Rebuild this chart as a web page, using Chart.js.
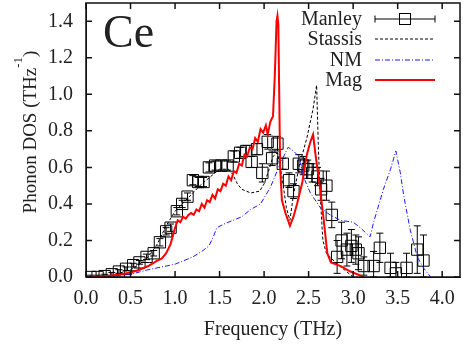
<!DOCTYPE html>
<html lang="en">
<head>
<meta charset="UTF-8">
<title>Ce phonon DOS</title>
<script src="https://cdn.jsdelivr.net/npm/chart.js"></script>
<style>
  body { margin: 0; background: #fff; }
  #dos { display: block; }
</style>
</head>
<body>
<canvas id="dos" width="463" height="344"></canvas>
<script>
// Manley: measured DOS with error bars
const manleyFreq = [0.05,0.13,0.21,0.29,0.37,0.45,0.53,0.60,0.68,0.76,0.83,0.90,0.95,1.02,1.08,1.14,1.20,1.26,1.32,1.38,
  1.45,1.52,1.59,1.66,1.73,1.80,1.86,1.92,1.98,2.04,2.09,2.15,2.21,2.28,2.33,2.39,2.44,2.49,2.54,2.60,
  2.64,2.70,2.76,2.82,2.87,2.93,2.98,3.03,3.06,3.12,3.23,3.30,3.42,3.48,3.60,3.72,3.79];
const manleyDos = [0.00,0.00,0.005,0.015,0.03,0.045,0.065,0.08,0.11,0.13,0.19,0.25,0.27,0.36,0.40,0.44,0.53,0.52,0.52,0.60,
  0.61,0.61,0.61,0.66,0.68,0.69,0.63,0.70,0.57,0.74,0.65,0.73,0.62,0.53,0.47,0.62,0.61,0.59,0.57,0.55,
  0.48,0.50,0.34,0.11,0.20,0.15,0.17,0.15,0.13,0.06,0.06,0.16,0.05,0.02,0.05,0.15,0.09];
const manleyErr = [0.01,0.01,0.01,0.01,0.01,0.01,0.01,0.01,0.015,0.015,0.02,0.02,0.02,0.02,0.02,0.02,0.025,0.025,0.025,0.025,
  0.025,0.025,0.025,0.03,0.03,0.03,0.03,0.03,0.05,0.04,0.04,0.04,0.03,0.04,0.04,0.05,0.05,0.05,0.05,0.05,
  0.06,0.08,0.07,0.09,0.10,0.09,0.09,0.08,0.09,0.05,0.08,0.08,0.08,0.06,0.08,0.13,0.14];

// Stassis
const stassisFreq = [0.0,0.3,0.5,0.6,0.7,0.8,0.9,1.0,1.1,1.2,1.3,1.4,1.5,1.6,1.65,1.7,1.75,1.85,1.95,2.0,
  2.05,2.1,2.15,2.2,2.25,2.29,2.33,2.4,2.48,2.55,2.59,2.61,2.63,2.66,2.7,2.8,2.9,3.0];
const stassisDos = [0.0,0.01,0.04,0.07,0.11,0.18,0.28,0.36,0.41,0.46,0.51,0.55,0.59,0.59,0.56,0.51,0.48,0.46,0.47,0.51,
  0.58,0.66,0.68,0.55,0.38,0.31,0.45,0.62,0.76,0.92,1.05,0.70,0.45,0.20,0.13,0.08,0.04,0.0];

// NM calculation
const nmFreq = [0.0,0.3,0.5,0.7,0.9,1.0,1.1,1.2,1.3,1.38,1.43,1.47,1.55,1.65,1.75,1.85,1.96,2.07,2.18,2.27,
  2.33,2.39,2.44,2.52,2.63,2.74,2.86,3.0,3.08,3.19,3.23,3.34,3.42,3.48,3.53,3.57,3.64,3.72,3.79,3.87];
const nmDos = [0.0,0.005,0.015,0.04,0.06,0.07,0.09,0.11,0.14,0.17,0.22,0.27,0.29,0.31,0.33,0.37,0.40,0.49,0.62,0.71,
  0.69,0.66,0.55,0.46,0.38,0.34,0.31,0.30,0.27,0.22,0.30,0.48,0.59,0.69,0.57,0.44,0.26,0.11,0.05,0.0];

// Mag calculation
const magFreq = [0.0,0.2,0.4,0.5,0.6,0.7,0.8,0.85,0.9,0.95,1.0,1.03,1.06,1.09,1.12,1.15,1.18,1.21,1.24,1.27,
  1.30,1.33,1.36,1.39,1.42,1.45,1.48,1.51,1.54,1.57,1.60,1.63,1.66,1.69,1.72,1.75,1.78,1.81,1.84,1.87,
  1.90,1.93,1.96,1.99,2.02,2.04,2.07,2.10,2.12,2.14,2.15,2.16,2.17,2.18,2.20,2.24,2.29,2.33,2.37,2.43,
  2.48,2.52,2.55,2.58,2.62,2.67,2.71,2.75,2.86,2.97,3.12];
const magDos = [0.0,0.003,0.015,0.025,0.04,0.06,0.09,0.10,0.13,0.18,0.27,0.31,0.30,0.33,0.32,0.34,0.35,0.34,0.37,0.36,
  0.40,0.38,0.42,0.41,0.45,0.43,0.48,0.47,0.51,0.50,0.55,0.53,0.58,0.57,0.62,0.61,0.67,0.66,0.71,0.70,
  0.76,0.74,0.81,0.79,0.83,0.78,0.85,0.88,1.10,1.40,1.43,1.38,1.00,0.60,0.42,0.35,0.28,0.33,0.40,0.52,
  0.67,0.74,0.78,0.66,0.52,0.31,0.13,0.08,0.06,0.03,0.0];

const xTickValues = [0.0,0.5,1.0,1.5,2.0,2.5,3.0,3.5,4.0];
const yTickValues = [0.0,0.2,0.4,0.6,0.8,1.0,1.2,1.4];

const serif = '"Liberation Serif", "Times New Roman", serif';
Chart.defaults.font.family = serif;
Chart.defaults.font.size = 20;
Chart.defaults.color = '#222';

const pts = (xs, ys) => xs.map((x, i) => ({ x: x, y: ys[i] }));

// vertical error bars with caps, drawn under the markers
const errorBars = {
  id: 'errorBars',
  beforeDatasetsDraw(chart) {
    const { ctx, scales: { x, y } } = chart;
    ctx.save();
    ctx.strokeStyle = '#000';
    ctx.lineWidth = 1;
    manleyFreq.forEach((f, i) => {
      const px = x.getPixelForValue(f);
      const lo = y.getPixelForValue(Math.max(0, manleyDos[i] - manleyErr[i]));
      const hi = y.getPixelForValue(manleyDos[i] + manleyErr[i]);
      ctx.beginPath();
      ctx.moveTo(px, lo); ctx.lineTo(px, hi);
      ctx.moveTo(px - 3.5, lo); ctx.lineTo(px + 3.5, lo);
      ctx.moveTo(px - 3.5, hi); ctx.lineTo(px + 3.5, hi);
      ctx.stroke();
    });
    ctx.restore();
  }
};

// frame, inward ticks on all four sides, titles, legend and the element label
const decorations = {
  id: 'decorations',
  afterDraw(chart) {
    const { ctx, chartArea: a, scales: { x, y } } = chart;
    ctx.save();
    ctx.strokeStyle = '#111';
    ctx.lineWidth = 1.5;
    ctx.beginPath();
    xTickValues.forEach(v => {
      const px = x.getPixelForValue(v);
      ctx.moveTo(px, a.bottom); ctx.lineTo(px, a.bottom - 6);
      ctx.moveTo(px, a.top); ctx.lineTo(px, a.top + 6);
    });
    yTickValues.forEach(v => {
      const py = y.getPixelForValue(v);
      ctx.moveTo(a.left, py); ctx.lineTo(a.left + 6, py);
      ctx.moveTo(a.right, py); ctx.lineTo(a.right - 6, py);
    });
    ctx.stroke();
    ctx.strokeRect(a.left, a.top, a.right - a.left, a.bottom - a.top);

    ctx.fillStyle = '#222';
    ctx.font = '20px ' + serif;
    ctx.textAlign = 'center';
    ctx.textBaseline = 'alphabetic';
    ctx.fillText('Frequency (THz)', (a.left + a.right) / 2, 335);

    // rotated y title with superscript
    ctx.save();
    ctx.translate(36, 132);
    ctx.rotate(-Math.PI / 2);
    ctx.textAlign = 'left';
    const main = 'Phonon DOS (THz';
    ctx.font = '19px ' + serif;
    const w1 = ctx.measureText(main).width;
    const w3 = ctx.measureText(')').width;
    ctx.font = '13px ' + serif;
    const w2 = ctx.measureText('-1').width;
    let sx = -(w1 + w2 + w3) / 2;
    ctx.font = '19px ' + serif;
    ctx.fillText(main, sx, 0);
    sx += w1;
    ctx.font = '13px ' + serif;
    ctx.fillText('-1', sx, -14);
    sx += w2;
    ctx.font = '19px ' + serif;
    ctx.fillText(')', sx, 0);
    ctx.restore();

    ctx.font = '46px ' + serif;
    ctx.textAlign = 'left';
    ctx.fillText('Ce', 103, 47);

    // legend
    const labels = ['Manley', 'Stassis', 'NM', 'Mag'];
    const rows = [19, 39, 60, 80];
    ctx.font = '20px ' + serif;
    ctx.textAlign = 'right';
    labels.forEach((t, i) => ctx.fillText(t, 362, rows[i] + 6));
    const x0 = 375, x1 = 435;
    chart.data.datasets.forEach((ds, i) => {
      const ly = rows[i];
      ctx.save();
      ctx.strokeStyle = ds.borderColor;
      ctx.lineWidth = ds.borderWidth;
      ctx.setLineDash(ds.borderDash || []);
      ctx.beginPath();
      ctx.moveTo(x0, ly); ctx.lineTo(x1, ly);
      if (i === 0) {
        ctx.moveTo(x0, ly - 3.5); ctx.lineTo(x0, ly + 3.5);
        ctx.moveTo(x1, ly - 3.5); ctx.lineTo(x1, ly + 3.5);
      }
      ctx.stroke();
      if (i === 0) {
        ctx.strokeRect(405 - 5.5, ly - 5.5, 11, 11);
      }
      ctx.restore();
    });
    ctx.restore();
  }
};

const noPad = s => { s.paddingTop = 0; s.paddingBottom = 0; s.paddingLeft = 0; s.paddingRight = 0; };

new Chart(document.getElementById('dos'), {
  type: 'line',
  data: {
    datasets: [
      {
        label: 'Manley',
        data: pts(manleyFreq, manleyDos),
        showLine: false,
        pointStyle: 'rect',
        pointRadius: 8,
        pointBorderColor: '#000',
        pointBackgroundColor: 'rgba(0,0,0,0)',
        pointBorderWidth: 1,
        borderColor: '#000',
        borderWidth: 1,
        order: 4
      },
      {
        label: 'Stassis',
        data: pts(stassisFreq, stassisDos),
        borderColor: '#000',
        borderWidth: 1,
        borderDash: [3, 2],
        pointRadius: 0,
        order: 3
      },
      {
        label: 'NM',
        data: pts(nmFreq, nmDos),
        borderColor: '#1a1aff',
        borderWidth: 1,
        borderDash: [5, 2, 1, 2],
        pointRadius: 0,
        order: 2
      },
      {
        label: 'Mag',
        data: pts(magFreq, magDos),
        borderColor: '#ff0000',
        borderWidth: 2,
        pointRadius: 0,
        order: 1
      }
    ]
  },
  options: {
    responsive: false,
    animation: false,
    // fixed plot box: left 86, top 3, right 460, bottom 277
    layout: { autoPadding: false, padding: { left: 0, right: 3, top: 3, bottom: 0 } },
    plugins: { legend: { display: false }, tooltip: { enabled: false } },
    elements: { line: { tension: 0 } },
    scales: {
      x: {
        type: 'linear',
        min: 0,
        max: 4.2,
        grid: { display: false, drawTicks: false },
        border: { display: true, color: '#111' },
        afterBuildTicks: s => { s.ticks = xTickValues.map(v => ({ value: v })); },
        afterFit: s => { s.height = 67; noPad(s); },
        ticks: { padding: 10, maxRotation: 0, callback: v => v.toFixed(1) }
      },
      y: {
        min: 0,
        max: 1.5,
        grid: { display: false, drawTicks: false },
        border: { display: true, color: '#111' },
        afterBuildTicks: s => { s.ticks = yTickValues.map(v => ({ value: v })); },
        afterFit: s => { s.width = 86; noPad(s); },
        ticks: { padding: 13, callback: v => v.toFixed(1) }
      }
    }
  },
  plugins: [errorBars, decorations]
});
</script>
</body>
</html>
